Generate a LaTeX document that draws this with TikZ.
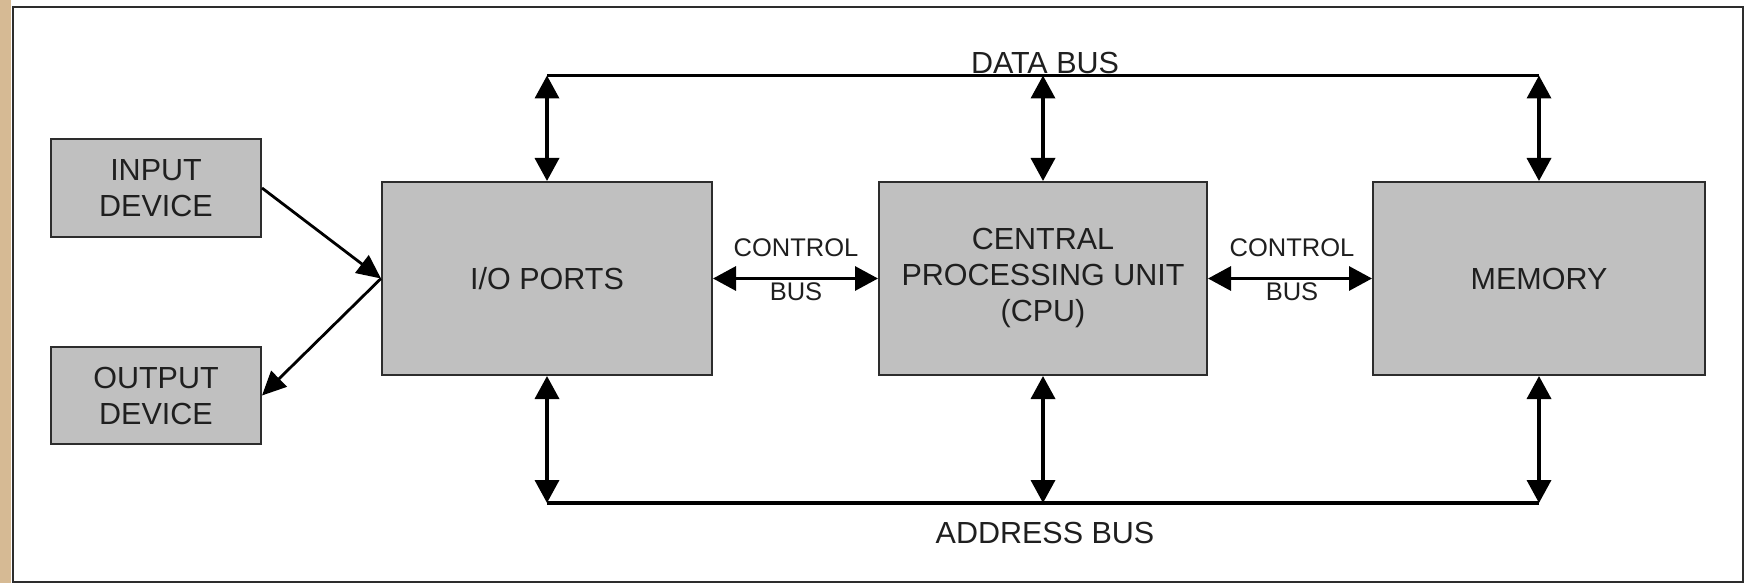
\documentclass[tikz,border=0pt]{standalone}
\usepackage{fontspec}
\setmainfont{Liberation Sans}
\usetikzlibrary{arrows.meta}
\definecolor{boxgray}{RGB}{192,192,192}
\definecolor{edgegray}{RGB}{45,45,45}
\definecolor{woodtan}{RGB}{214,186,148}
\tikzset{
  unit/.style={draw=edgegray, line width=2pt, fill=boxgray, align=center,
    inner sep=0pt, font=\fontsize{30.5}{36}\selectfont, text=black!88},
  device/.style={unit, minimum width=210pt, minimum height=97pt},
  block/.style={unit, minimum width=330pt, minimum height=193pt},
  busline/.style={line width=3.6pt},
  busarrow/.style={line width=3.6pt, {Triangle[width=24pt,length=23pt]}-{Triangle[width=24pt,length=23pt]}},
  devarrow/.style={line width=2.8pt, -{Triangle[width=22pt,length=24pt]}},
  buslabel/.style={font=\fontsize{30.5}{36}\selectfont, text=black!88, inner sep=0pt},
  ctllabel/.style={font=\fontsize{25.5}{30}\selectfont, text=black!88, inner sep=0pt}
}
\begin{document}
\begin{tikzpicture}[x=1pt, y=-1pt]
  \useasboundingbox (0,0) rectangle (1748,583);
  % page edge and frame
  \fill[woodtan] (0,0) rectangle (11,583);
  \draw[edgegray, line width=2pt, fill=white] (12.5,7.5) rectangle (1743,582);

  % blocks
  \node[device] (inp) at (156,188) {INPUT\\DEVICE};
  \node[device] (outp) at (156,395.5) {OUTPUT\\DEVICE};
  \node[block] (io) at (547,278.5) {I/O PORTS};
  \node[block, minimum width=328pt] (cpu) at (1043,278.5) {CENTRAL\\PROCESSING UNIT\\(CPU)};
  \node[block, minimum width=332pt] (mem) at (1539,278.5) {MEMORY};

  % bus taps
  \coordinate (d1) at (547,75.5);
  \coordinate (d2) at (1043,75.5);
  \coordinate (d3) at (1539,75.5);
  \coordinate (a1) at (547,503);
  \coordinate (a2) at (1043,503);
  \coordinate (a3) at (1539,503);

  % data bus
  \draw[busline] (d1) -- (d3);
  \node[buslabel, anchor=base] (dbus) at (1045,73.3) {DATA BUS};
  \draw[busarrow] (d1) -- (io.north);
  \draw[busarrow] (d2) -- (cpu.north);
  \draw[busarrow] (d3) -- (mem.north);

  % address bus
  \draw[busline] (a1) -- (a3);
  \node[buslabel, anchor=base] (abus) at (1045,543.3) {ADDRESS BUS};
  \draw[busarrow] (io.south) -- (a1);
  \draw[busarrow] (cpu.south) -- (a2);
  \draw[busarrow] (mem.south) -- (a3);

  % control buses
  \draw[busarrow, line width=3.2pt] (io.east) -- (cpu.west);
  \node[ctllabel, anchor=base] (c1a) at (796,256) {CONTROL};
  \node[ctllabel, anchor=base] (c1b) at (796,300) {BUS};
  \draw[busarrow, line width=3.2pt] (cpu.east) -- (mem.west);
  \node[ctllabel, anchor=base] (c2a) at (1292,256) {CONTROL};
  \node[ctllabel, anchor=base] (c2b) at (1292,300) {BUS};

  % devices
  \draw[devarrow] (inp.east) -- (io.west);
  \draw[devarrow] (io.west) -- (outp.east);
\end{tikzpicture}
\end{document}
